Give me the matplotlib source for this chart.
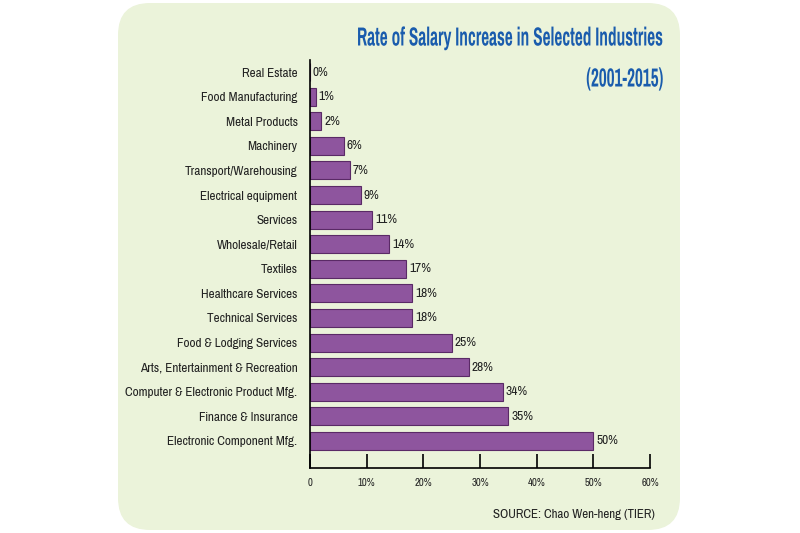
import matplotlib
matplotlib.use("Agg")
import matplotlib.pyplot as plt
from matplotlib.patches import FancyBboxPatch
from matplotlib import font_manager, patheffects
from matplotlib.transforms import Affine2D

industries = [
    "Real Estate",
    "Food Manufacturing",
    "Metal Products",
    "Machinery",
    "Transport/Warehousing",
    "Electrical equipment",
    "Services",
    "Wholesale/Retail",
    "Textiles",
    "Healthcare Services",
    "Technical Services",
    "Food & Lodging Services",
    "Arts, Entertainment & Recreation",
    "Computer & Electronic Product Mfg.",
    "Finance & Insurance",
    "Electronic Component Mfg.",
]
increase = [0, 1, 2, 6, 7, 9, 11, 14, 17, 18, 18, 25, 28, 34, 35, 50]
xticks = [0, 10, 20, 30, 40, 50, 60]
xtick_labels = ["0", "10%", "20%", "30%", "40%", "50%", "60%"]

# narrow font (Helvetica Condensed look-alike), with fallbacks
names = {f.name for f in font_manager.fontManager.ttflist}
narrow = "Liberation Sans"
for cand in ["Pragati Narrow", "PT Sans Narrow", "Roboto Condensed"]:
    if cand in names:
        narrow = cand
        break
plt.rcParams["font.family"] = [narrow, "DejaVu Sans"]


class Squeeze(patheffects.AbstractPathEffect):
    """Poziome sciesnienie tekstu wokol punktu x0 (w pikselach)."""

    def __init__(self, sx, x0):
        super().__init__()
        self.sx = sx
        self.x0 = x0

    def draw_path(self, renderer, gc, tpath, affine, rgbFace=None):
        squeeze = Affine2D().translate(-self.x0, 0).scale(self.sx, 1).translate(self.x0, 0)
        renderer.draw_path(gc, tpath, affine + squeeze, rgbFace)


fig = plt.figure(figsize=(8, 5.33), dpi=100)
fig.patch.set_facecolor("white")
renderer = fig.canvas.get_renderer()


def text_width(text, size, weight="normal"):
    t = fig.text(0, 0, text, fontsize=size, fontweight=weight)
    w = t.get_window_extent(renderer).width
    t.remove()
    return w


label_size = 10.0 * 121 / text_width("Electronic Component Mfg.", 10.0) * 1.08
value_size = 10.0 * 21 / text_width("50%", 10.0) * 1.05
tick_size = 10.0 * 17 / text_width("10%", 10.0) * 1.05
source_size = 10.0 * 162 / text_width("SOURCE: Chao Wen-heng (TIER)", 10.0)

title = "Rate of Salary Increase in Selected Industries"
title_size = 20.5
title_sx = 306 / text_width(title, title_size, "bold")

# rounded panel behind the chart
panel = FancyBboxPatch((118 / 800, 1 - 530 / 533), (680 - 118) / 800, (530 - 3) / 533,
                       boxstyle="round,pad=0,rounding_size=0.04",
                       transform=fig.transFigure, facecolor="#ebf3da", edgecolor="none",
                       mutation_aspect=1.5, zorder=-10)
fig.patches.append(panel)

ax = fig.add_axes([310 / 800, 1 - 468 / 533, (650 - 310) / 800, (468 - 60) / 533])
ax.set_facecolor("none")

ypos = list(range(len(industries)))
ax.barh(ypos, increase, height=0.73, color="#8e559e", edgecolor="#5a2a66", linewidth=0.8)
for y, v in zip(ypos, increase):
    ax.text(v + 0.5, y, f"{v}%", va="center", ha="left", fontsize=value_size, color="#222222")

ax.set_xlim(0, 60)
ax.set_ylim(len(industries) - 1 + 1.1, -0.49)
ax.set_yticks(ypos)
ax.set_yticklabels(industries, fontsize=label_size, color="#222222")
ax.tick_params(axis="y", length=0, pad=9)
ax.set_xticks(xticks)
ax.set_xticklabels(xtick_labels, fontsize=tick_size, color="#222222")
ax.tick_params(axis="x", direction="in", length=10, width=1.2, pad=7)
for s in ["top", "right"]:
    ax.spines[s].set_visible(False)
ax.spines["left"].set_linewidth(1.2)
ax.spines["bottom"].set_linewidth(1.2)

sq = [Squeeze(title_sx, 663)]
fig.text(663 / 800, 1 - 38 / 533, title,
         ha="right", va="center", fontsize=title_size, fontweight="bold", color="#1a5cad",
         path_effects=sq)
fig.text(663 / 800, 1 - 79 / 533, "(2001-2015)",
         ha="right", va="center", fontsize=title_size, fontweight="bold", color="#1a5cad",
         path_effects=sq)

fig.text(655 / 800, 1 - 515 / 533, "SOURCE: Chao Wen-heng (TIER)",
         ha="right", va="center", fontsize=source_size, color="#222222")

fig.savefig("out.png", dpi=100)
